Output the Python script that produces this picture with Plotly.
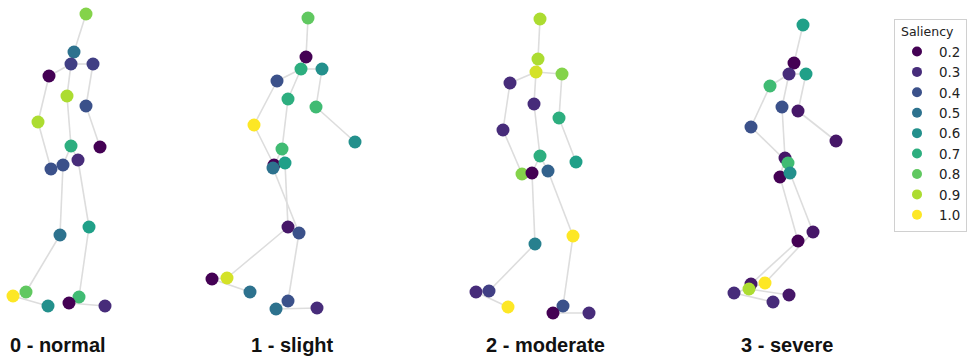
import plotly.graph_objects as go
from plotly.colors import sample_colorscale

# Joint order shared by every skeleton
JOINTS = [
    "head", "neck", "spine_shoulder", "shoulder_r", "shoulder_l", "spine_mid",
    "elbow_r", "elbow_l", "wrist_r", "spine_base", "wrist_l", "hip_l", "hip_r",
    "knee_l", "knee_r", "ankle_l", "heel_l", "toe_l", "ankle_r", "heel_r", "toe_r",
]

BONES = [
    ("head", "neck"), ("neck", "spine_shoulder"),
    ("spine_shoulder", "shoulder_r"), ("spine_shoulder", "shoulder_l"),
    ("spine_shoulder", "spine_mid"), ("spine_mid", "spine_base"),
    ("shoulder_r", "elbow_r"), ("elbow_r", "wrist_r"),
    ("shoulder_l", "elbow_l"), ("elbow_l", "wrist_l"),
    ("spine_base", "hip_l"), ("spine_base", "hip_r"),
    ("hip_l", "knee_l"), ("knee_l", "ankle_l"), ("ankle_l", "heel_l"), ("heel_l", "toe_l"),
    ("hip_r", "knee_r"), ("knee_r", "ankle_r"), ("ankle_r", "heel_r"), ("heel_r", "toe_r"),
]

CLASS_LABELS = ["0 - normal", "1 - slight", "2 - moderate", "3 - severe"]

# 2-D joint positions (image units) and per-joint saliency for each gait class
normal_x = [86, 74, 71, 93, 49, 67, 86, 38, 100, 71, 51, 63, 78, 60, 89, 26, 13, 48, 79, 69, 105]
normal_y = [14, 52, 64, 64, 76, 96, 106, 122, 147, 146, 169, 165, 160, 235, 227, 292, 296, 306, 297, 303, 306]
normal_s = [0.85, 0.5, 0.35, 0.35, 0.2, 0.9, 0.4, 0.9, 0.2, 0.7, 0.4, 0.4, 0.3, 0.5, 0.65, 0.8, 1.0, 0.6, 0.75, 0.2, 0.3]

slight_x = [108, 106, 101, 122, 77, 88, 116, 54, 155, 82, 74, 85, 73, 88, 99, 27, 12, 50, 88, 76, 117]
slight_y = [18, 57, 69, 69, 81, 99, 107, 125, 142, 149, 165, 163, 168, 227, 233, 278, 279, 292, 301, 309, 308]
slight_s = [0.8, 0.2, 0.7, 0.6, 0.4, 0.7, 0.75, 1.0, 0.6, 0.75, 0.2, 0.65, 0.5, 0.25, 0.4, 0.95, 0.2, 0.5, 0.4, 0.5, 0.3]

moderate_x = [90, 88, 86, 112, 60, 84, 109, 53, 126, 90, 72, 82, 98, 85, 123, 39, 26, 58, 113, 103, 139]
moderate_y = [19, 59, 72, 74, 83, 104, 118, 130, 162, 156, 174, 173, 171, 244, 236, 291, 292, 307, 306, 313, 313]
moderate_s = [0.9, 0.9, 0.95, 0.85, 0.3, 0.3, 0.7, 0.3, 0.65, 0.7, 0.85, 0.2, 0.45, 0.55, 1.0, 0.35, 0.3, 1.0, 0.4, 0.2, 0.3]

severe_x = [93, 84, 79, 96, 60, 72, 88, 41, 126, 75, 78, 70, 80, 88, 103, 41, 39, 79, 55, 24, 63]
severe_y = [25, 63, 74, 74, 86, 107, 111, 127, 141, 158, 163, 177, 173, 241, 232, 284, 289, 295, 283, 293, 302]
severe_s = [0.65, 0.2, 0.3, 0.65, 0.75, 0.4, 0.25, 0.4, 0.25, 0.25, 0.75, 0.2, 0.6, 0.2, 0.25, 0.25, 0.9, 0.25, 1.0, 0.3, 0.3]

LEGEND_LEVELS = [0.2, 0.3, 0.4, 0.5, 0.6, 0.7, 0.8, 0.9, 1.0]
S_MIN, S_MAX = 0.2, 1.0

panels = [
    (normal_x, normal_y, normal_s),
    (slight_x, slight_y, slight_s),
    (moderate_x, moderate_y, moderate_s),
    (severe_x, severe_y, severe_s),
]

W, H = 969, 362
PANEL_LEFT = [0, 200, 450, 710]
PANEL_W = 200
LABEL_CX = [58, 292, 545, 787]

idx = {name: i for i, name in enumerate(JOINTS)}
fig = go.Figure()

for k, (xs, ys, ss) in enumerate(panels):
    xa = "x" if k == 0 else f"x{k + 1}"
    ya = "y" if k == 0 else f"y{k + 1}"
    lx, ly = [], []
    for a, b in BONES:
        lx += [xs[idx[a]], xs[idx[b]], None]
        ly += [ys[idx[a]], ys[idx[b]], None]
    fig.add_trace(go.Scatter(
        x=lx, y=ly, mode="lines", xaxis=xa, yaxis=ya,
        line=dict(color="#dddddd", width=1.6),
        hoverinfo="skip", showlegend=False,
    ))
    fig.add_trace(go.Scatter(
        x=xs, y=ys, mode="markers", xaxis=xa, yaxis=ya,
        text=JOINTS,
        marker=dict(size=13, color=ss, colorscale="Viridis",
                    cmin=S_MIN, cmax=S_MAX, line=dict(width=0)),
        showlegend=False,
    ))
    fig.add_annotation(
        x=LABEL_CX[k] / W, y=1 - 345 / H, xref="paper", yref="paper",
        text=f"<b>{CLASS_LABELS[k]}</b>", showarrow=False,
        font=dict(size=20, color="#111111", family="Liberation Sans, Arial, sans-serif"),
        xanchor="center", yanchor="middle",
    )
    fig.layout[f"xaxis{'' if k == 0 else k + 1}"] = dict(
        domain=[PANEL_LEFT[k] / W, (PANEL_LEFT[k] + PANEL_W) / W],
        range=[0, PANEL_W], visible=False, fixedrange=True,
    )
    fig.layout[f"yaxis{'' if k == 0 else k + 1}"] = dict(
        domain=[0, 1], range=[H, 0], visible=False, fixedrange=True,
        anchor=xa,
    )

# Legend entries for the discrete saliency levels
for v in LEGEND_LEVELS:
    col = sample_colorscale("Viridis", [(v - S_MIN) / (S_MAX - S_MIN)])[0]
    fig.add_trace(go.Scatter(
        x=[None], y=[None], mode="markers", name=f"{v:.1f}",
        marker=dict(size=10, color=col), showlegend=True,
    ))

fig.update_layout(
    width=W, height=H,
    margin=dict(l=0, r=0, t=0, b=0),
    paper_bgcolor="white", plot_bgcolor="white",
    font=dict(family="DejaVu Sans, sans-serif", color="#222222"),
    legend=dict(
        title=dict(text="&nbsp;Saliency", font=dict(size=12.5)),
        x=894 / W, y=1 - 19 / H, xanchor="left", yanchor="top",
        bordercolor="#d0d0d0", borderwidth=1,
        font=dict(size=13.4), bgcolor="white",
        itemwidth=34,
    ),
)

fig.write_html("out.html")
